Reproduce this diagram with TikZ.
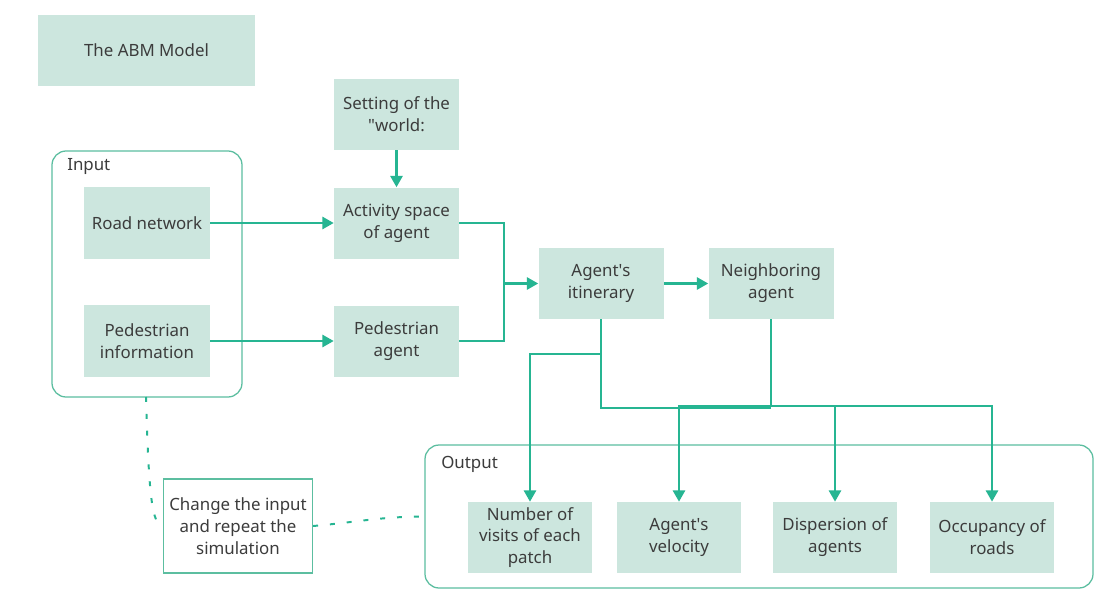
\documentclass[tikz,border=0pt]{standalone}
\usepackage{fontspec}
\setmainfont{Noto Sans}
\usepackage{xcolor}
\usepackage{tikz}
\usetikzlibrary{positioning}
\usetikzlibrary{arrows.meta, shapes, calc}
\definecolor{mintbox}{RGB}{204,230,222}
\definecolor{tealline}{RGB}{38,181,146}
\definecolor{tealframe}{RGB}{92,190,160}
\definecolor{textgrey}{RGB}{60,60,60}
\tikzstyle{box} = [rectangle, fill=mintbox, text=textgrey, align=center, minimum width=3.125cm, minimum height=1.775cm, inner sep=0pt, font=\fontsize{12}{15.6}\selectfont]
\tikzstyle{groupframe} = [draw=tealframe, line width=0.9pt, rounded corners=10pt]
\tikzstyle{grouplabel} = [anchor=west, inner sep=0pt, text=textgrey, font=\fontsize{12}{15.6}\selectfont]
\tikzstyle{arrow} = [line width=1.8pt, draw=tealline, -{Triangle[length=8pt,width=8.5pt]}]
\tikzstyle{link} = [line width=1.8pt, draw=tealline]
\tikzstyle{dots} = [line width=1.4pt, draw=tealline, dash pattern=on 3.5pt off 8.5pt]

\begin{document}
\begin{tikzpicture}
\fill[white] (0,0) rectangle (27.75,15.025);
\useasboundingbox (0,0) rectangle (27.75,15.025);
\node[box, minimum width=5.425cm] (abm) at (3.6625,13.7625) {The ABM Model};
\node[box] (world) at (9.9125,12.1625) {Setting of the\\\textquotedbl world:};
% input group
\draw[groupframe] (1.3,5.1) rectangle (6.05,11.25);
\coordinate (inbottom) at (3.65,5.1);
\node[grouplabel] (inlabel) at (1.675,10.875) {Input};
\node[box, minimum width=3.15cm, minimum height=1.8cm] (road) at (3.675,9.45) {Road network};
\node[box, minimum width=3.15cm, minimum height=1.8cm] (pinfo) at (3.675,6.5) {Pedestrian\\information};
\node[box] (activity) at (9.9125,9.45) {Activity space\\of agent};
\node[box] (pagent) at (9.9125,6.5) {Pedestrian\\agent};
\node[box] (itinerary) at (15.025,7.9375) {Agent\textquotesingle s\\itinerary};
\node[box] (neighbor) at (19.275,7.9375) {Neighboring\\agent};
% output group
\draw[groupframe] (10.625,0.325) rectangle (27.325,3.9);
\coordinate (outleft) at (10.625,2.1125);
\node[grouplabel] (outlabel) at (11.025,3.425) {Output};
\node[box, minimum width=3.1cm] (visits) at (13.25,1.5875) {Number of\\visits of each\\patch};
\node[box, minimum width=3.1cm] (velocity) at (16.975,1.5875) {Agent\textquotesingle s\\velocity};
\node[box, minimum width=3.1cm] (dispersion) at (20.875,1.5875) {Dispersion of\\agents};
\node[box, minimum width=3.1cm] (occupancy) at (24.8,1.5875) {Occupancy of\\roads};
\node[box, fill=white, draw=tealframe, line width=0.9pt, minimum width=3.725cm, minimum height=2.35cm] (change) at (5.95,1.875) {Change the input\\and repeat the\\simulation};
% connectors
\draw[arrow] (world) -- (activity);
\draw[arrow] (road) -- (activity);
\draw[arrow] (pinfo) -- (pagent);
\draw[link] (activity.east) -- (12.6,9.45) -- (12.6,6.5) -- (pagent.east);
\coordinate (join) at (12.6,7.9375);
\draw[arrow] (join) -- (itinerary);
\draw[arrow] (itinerary) -- (neighbor);
\draw[link] (itinerary.south) -- (15.025,4.825) -- (19.275,4.825);
\draw[arrow] (15.025,6.175) -| (visits.north);
\draw[link] (neighbor.south) -- (19.275,4.875);
\draw[arrow] (19.275,4.875) -| (velocity.north);
\draw[arrow] (19.275,4.875) -| (occupancy.north);
\draw[arrow] (20.875,4.875) -- (dispersion.north);
\draw[dots] (inbottom) .. controls (3.72,2.6) and (3.8,1.9) .. (change.west);
\draw[dots] (change.east) to[out=5,in=180] (outleft);
\end{tikzpicture}
\end{document}
